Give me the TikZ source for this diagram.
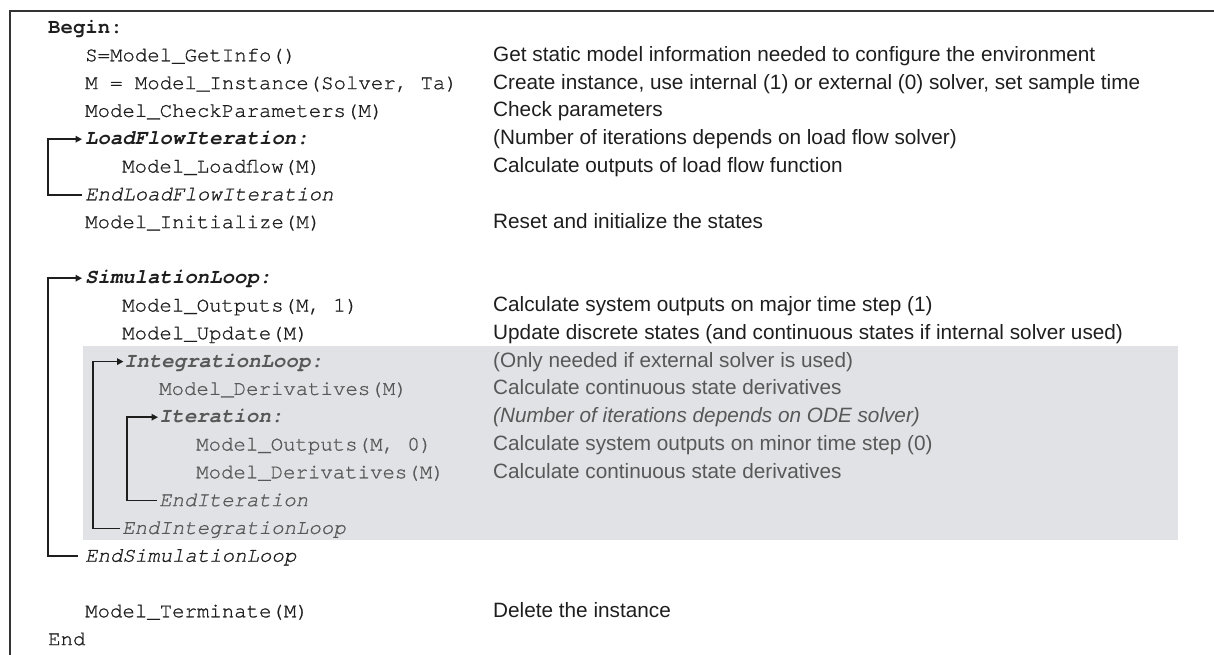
\documentclass[tikz,border=0pt]{standalone}
\usepackage{fontspec}
\setmainfont{Liberation Sans}
\newfontfamily\cour{texgyrecursor}[Extension=.otf,UprightFont=*-regular,BoldFont=*-bold,ItalicFont=*-italic,BoldItalicFont=*-bolditalic,UprightFeatures={FakeBold=0.9},ItalicFeatures={FakeBold=0.9}]
\usetikzlibrary{arrows.meta}

\definecolor{ink}{HTML}{1E1E1E}
\definecolor{dim}{HTML}{585858}
\definecolor{boxgray}{HTML}{E1E2E6}
\definecolor{framegray}{HTML}{333333}

\tikzset{
  base/.style={anchor=west, inner sep=0pt, text height=13pt, text depth=2pt, text=ink},
  code/.style={base, font=\cour\fontsize{20.7}{24}\selectfont},
  codeb/.style={base, font=\cour\bfseries\fontsize{20.7}{24}\selectfont},
  codei/.style={base, font=\cour\itshape\fontsize{20.7}{24}\selectfont},
  codebi/.style={base, font=\cour\bfseries\itshape\fontsize{20.7}{24}\selectfont},
  note/.style={base, font=\fontsize{20.75}{24}\selectfont},
  notei/.style={base, font=\itshape\fontsize{20.75}{24}\selectfont},
  dimtext/.style={text=dim},
  loopln/.style={draw=ink, line width=1.6pt, -{Triangle[length=6.5pt,width=6.5pt]}},
  framelines/.style={draw=framegray, line width=2pt},
}

\begin{document}
\begin{tikzpicture}[x=1pt,y=-1pt]
\useasboundingbox (0,0) rectangle (1214,655);

% outer frame (top and left edges)
\draw[framelines] (9.5,655) -- (9.5,11) -- (1214,11);

% shaded block for the integration loop
\fill[boxgray] (83,346) rectangle (1178,540);

% code column
\node[codeb]  (begin)   at (48,28)    {Begin:};
\node[code]   (getinfo) at (85,55.8)  {S=Model\_GetInfo()};
\node[code]   (inst)    at (85,83.6)  {M = Model\_Instance(Solver, Ta)};
\node[code]   (chk)     at (85,111.4) {Model\_CheckParameters(M)};
\node[codebi] (lfh)     at (85,139.2) {LoadFlowIteration:};
\node[code]   (lf)      at (122,167)  {Model\_Loadflow(M)};
\node[codei]  (lfe)     at (85,194.8) {EndLoadFlowIteration};
\node[code]   (init)    at (85,222.6) {Model\_Initialize(M)};
\node[codebi] (slh)     at (85,278.2) {SimulationLoop:};
\node[code]   (out1)    at (122,306)  {Model\_Outputs(M, 1)};
\node[code]   (upd)     at (122,333.8){Model\_Update(M)};
\node[codebi,dimtext] (ilh)  at (124,361.6) {IntegrationLoop:};
\node[code,dimtext]   (der1) at (159,389.4) {Model\_Derivatives(M)};
\node[codebi,dimtext] (ith)  at (159,417.2) {Iteration:};
\node[code,dimtext]   (out0) at (196,445)   {Model\_Outputs(M, 0)};
\node[code,dimtext]   (der2) at (196,472.8) {Model\_Derivatives(M)};
\node[codei,dimtext]  (ite)  at (159,500.6) {EndIteration};
\node[codei,dimtext]  (ile)  at (122,528.4) {EndIntegrationLoop};
\node[codei]  (sle)     at (85,556.2) {EndSimulationLoop};
\node[code]   (term)    at (85,611.8) {Model\_Terminate(M)};
\node[code]   (fin)     at (48,639.6) {End};

% description column
\node[note] (d1)  at (493,55.8)  {Get static model information needed to configure the environment};
\node[note] (d2)  at (493,83.6)  {Create instance, use internal (1) or external (0) solver, set sample time};
\node[note] (d3)  at (493,111.4) {Check parameters};
\node[note] (d4)  at (493,139.2) {(Number of iterations depends on load flow solver)};
\node[note] (d5)  at (493,167)   {Calculate outputs of load flow function};
\node[note] (d7)  at (493,222.6) {Reset and initialize the states};
\node[note] (d10) at (493,306)   {Calculate system outputs on major time step (1)};
\node[note] (d11) at (493,333.8) {Update discrete states (and continuous states if internal solver used)};
\node[note,dimtext]  (d12) at (493,361.6) {(Only needed if external solver is used)};
\node[note,dimtext]  (d13) at (493,389.4) {Calculate continuous state derivatives};
\node[notei,dimtext] (d14) at (493,417.2) {(Number of iterations depends on ODE solver)};
\node[note,dimtext]  (d15) at (493,445)   {Calculate system outputs on minor time step (0)};
\node[note,dimtext]  (d16) at (493,472.8) {Calculate continuous state derivatives};
\node[note] (d21) at (493,611.8) {Delete the instance};

% loop brackets
\coordinate (colA) at (48,0);
\coordinate (colB) at (93,0);
\coordinate (colC) at (127,0);
\draw[loopln] ([xshift=-3pt]lfe.west) -| (lfh.west -| colA) -- ([xshift=-3pt]lfh.west);
\draw[loopln] ([xshift=-7pt]sle.west) -| (slh.west -| colA) -- ([xshift=-3pt]slh.west);
\draw[loopln] ([xshift=-2pt]ile.west) -| (ilh.west -| colB) -- ([xshift=-0.5pt]ilh.west);
\draw[loopln] ([xshift=-2pt]ite.west) -| (ith.west -| colC) -- ([xshift=-1pt]ith.west);
\end{tikzpicture}
\end{document}
